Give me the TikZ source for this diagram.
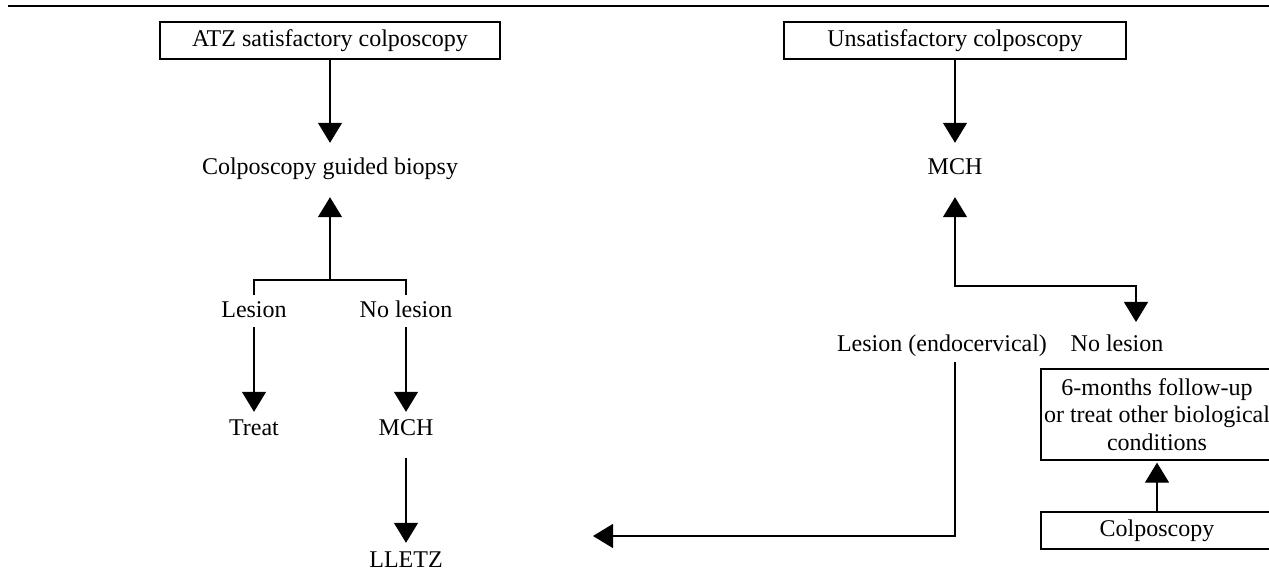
\documentclass[tikz,border=0pt]{standalone}
\usepackage{fontspec}
\setmainfont{Liberation Serif}
\usetikzlibrary{arrows.meta}
\begin{document}
\begin{tikzpicture}[x=1pt,y=-1pt,
  every node/.style={font=\fontsize{24}{27.5}\selectfont},
  line/.style={line width=1.3pt},
  arr/.style={line width=1.3pt,-{Triangle[width=24pt,length=20pt]}},
  dbl/.style={line width=1.3pt,{Triangle[width=24pt,length=20pt]}-{Triangle[width=24pt,length=20pt]}},
  lbl/.style={inner sep=0pt,text height=17pt,text depth=6pt,anchor=base},
  box/.style={draw,line width=1.3pt,inner sep=0pt,align=center}]
\useasboundingbox (0,0) rectangle (1269,577);
\clip (0,0) rectangle (1269,577);
\draw[line width=2.5pt] (8,6) -- (1269,6);
% left column
\node[box,minimum width=340pt,minimum height=37pt] (atz) at (330,40.5) {ATZ satisfactory colposcopy};
\node[lbl] (biopsy) at (330,175) {Colposcopy guided biopsy};
\node[lbl] (les1) at (254,317) {Lesion};
\node[lbl] (nol1) at (406,317) {No lesion};
\node[lbl] (treat) at (254,435) {Treat};
\node[lbl] (mch1) at (406,435) {MCH};
\node[lbl] (lletz) at (406,567) {LLETZ};
\coordinate (fl) at (330,280);
\draw[arr,shorten >=15pt] (atz.south) -- (biopsy.north);
\draw[line,shorten <=5pt,shorten >=5pt] (les1.north) |- (fl) -| (nol1.north);
\draw[arr,shorten >=16pt] (fl) -- (biopsy.south);
\draw[arr,shorten <=4pt,shorten >=6pt] (les1.south) -- (treat.north);
\draw[arr,shorten <=4pt,shorten >=6pt] (nol1.south) -- (mch1.north);
\draw[arr,shorten <=17pt,shorten >=7pt] (mch1.south) -- (lletz.north);
% right column
\node[box,minimum width=342pt,minimum height=37pt] (unsat) at (955,40.5) {Unsatisfactory colposcopy};
\node[lbl] (mch2) at (955,175) {MCH};
\node[lbl] (les2) at (942,352) {Lesion (endocervical)};
\node[lbl] (nol2) at (1117,352) {No lesion};
\node[box,minimum width=232pt,minimum height=91pt] (fu) at (1157,414.5) {6-months follow-up\\or treat other biological\\conditions};
\node[box,minimum width=232pt,minimum height=37pt] (colp) at (1157,530.5) {Colposcopy};
\coordinate (rt) at (1136,286);
\coordinate (rtip) at (1136,322);
\coordinate (lt) at (593,536);
\draw[arr,shorten >=15pt] (unsat.south) -- (mch2.north);
\draw[dbl,shorten <=16pt] (mch2.south) |- (rt) -- (rtip);
\draw[arr,shorten <=4pt] ([xshift=13pt]les2.south) |- (lt);
\draw[arr,shorten >=2pt] (colp.north) -- (fu.south);
\end{tikzpicture}
\end{document}
